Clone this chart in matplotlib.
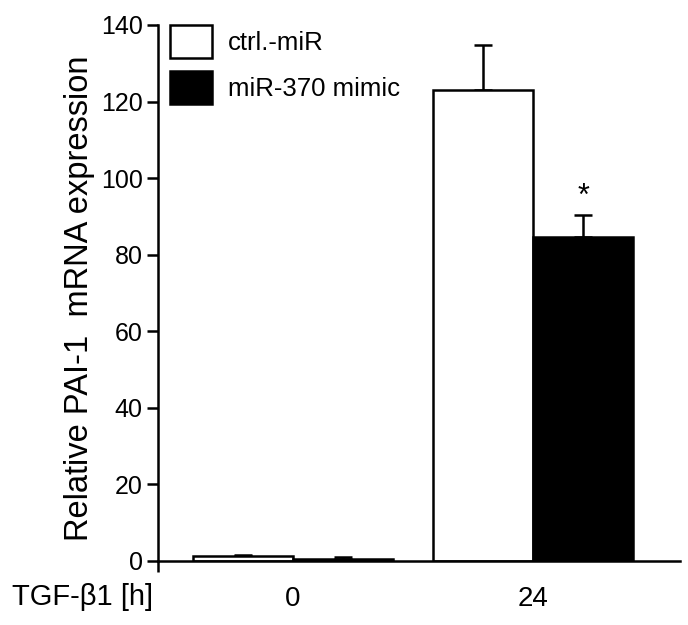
import numpy as np
import matplotlib
matplotlib.use("Agg")
import matplotlib.pyplot as plt

# datos
grupos = ["0", "24"]
ctrl_media = [1.2, 123.0]
ctrl_err = [0.3, 11.8]
mimic_media = [0.5, 84.6]
mimic_err = [0.5, 5.8]
series = ["ctrl.-miR", "miR-370 mimic"]

plt.rcParams["font.family"] = ["Liberation Sans", "DejaVu Sans"]

fig = plt.figure(figsize=(6.88, 6.25), dpi=100)
ax = fig.add_axes([158 / 688, 1 - 561 / 625, 522 / 688, 536 / 625])

x = np.array([0.0, 2.4])
ancho = 1.0
lw = 1.8

ax.bar(x - ancho / 2, ctrl_media, ancho, color="white", edgecolor="black",
       linewidth=lw, label=series[0], zorder=2)
ax.bar(x + ancho / 2, mimic_media, ancho, color="black", edgecolor="black",
       linewidth=lw, label=series[1], zorder=2)

# barras de error solo hacia arriba
ax.errorbar(x - ancho / 2, ctrl_media, yerr=[np.zeros(2), ctrl_err], fmt="none",
            ecolor="black", elinewidth=lw, capsize=6.5, capthick=lw, zorder=1)
ax.errorbar(x + ancho / 2, mimic_media, yerr=[np.zeros(2), mimic_err], fmt="none",
            ecolor="black", elinewidth=lw, capsize=6.5, capthick=lw, zorder=3)

ax.text(x[1] + ancho / 2, mimic_media[1] + mimic_err[1] + 0.8, "*",
        ha="center", va="bottom", fontsize=22)

ax.set_xlim(-1.35, 3.87)
ax.set_ylim(0, 140)
ax.set_yticks(np.arange(0, 141, 20))
ax.set_xticks(x)
ax.set_xticklabels(grupos)
ax.tick_params(axis="x", length=0, labelsize=20, pad=18)
ax.tick_params(axis="y", length=8, width=lw, labelsize=18, direction="out", pad=3)
ax.set_xticks([-1.35], minor=True)
ax.tick_params(axis="x", which="minor", length=8, width=lw, direction="out")
for s in ["top", "right"]:
    ax.spines[s].set_visible(False)
for s in ["left", "bottom"]:
    ax.spines[s].set_linewidth(lw)

ax.set_ylabel("Relative PAI-1  mRNA expression", fontsize=23.5)
ax.yaxis.set_label_coords(-0.12, 0.49)
fig.text(12 / 688, 1 - 597 / 625, "TGF-β1 [h]", fontsize=21, va="center", ha="left")

ax.legend(loc="upper left", bbox_to_anchor=(170 / 688, 1 - 25 / 625),
          bbox_transform=fig.transFigure, frameon=False, fontsize=18.5,
          handlelength=1.65, handleheight=1.6, labelspacing=0.5,
          handletextpad=0.6, borderpad=0, borderaxespad=0)

plt.savefig("out.png", dpi=100)
